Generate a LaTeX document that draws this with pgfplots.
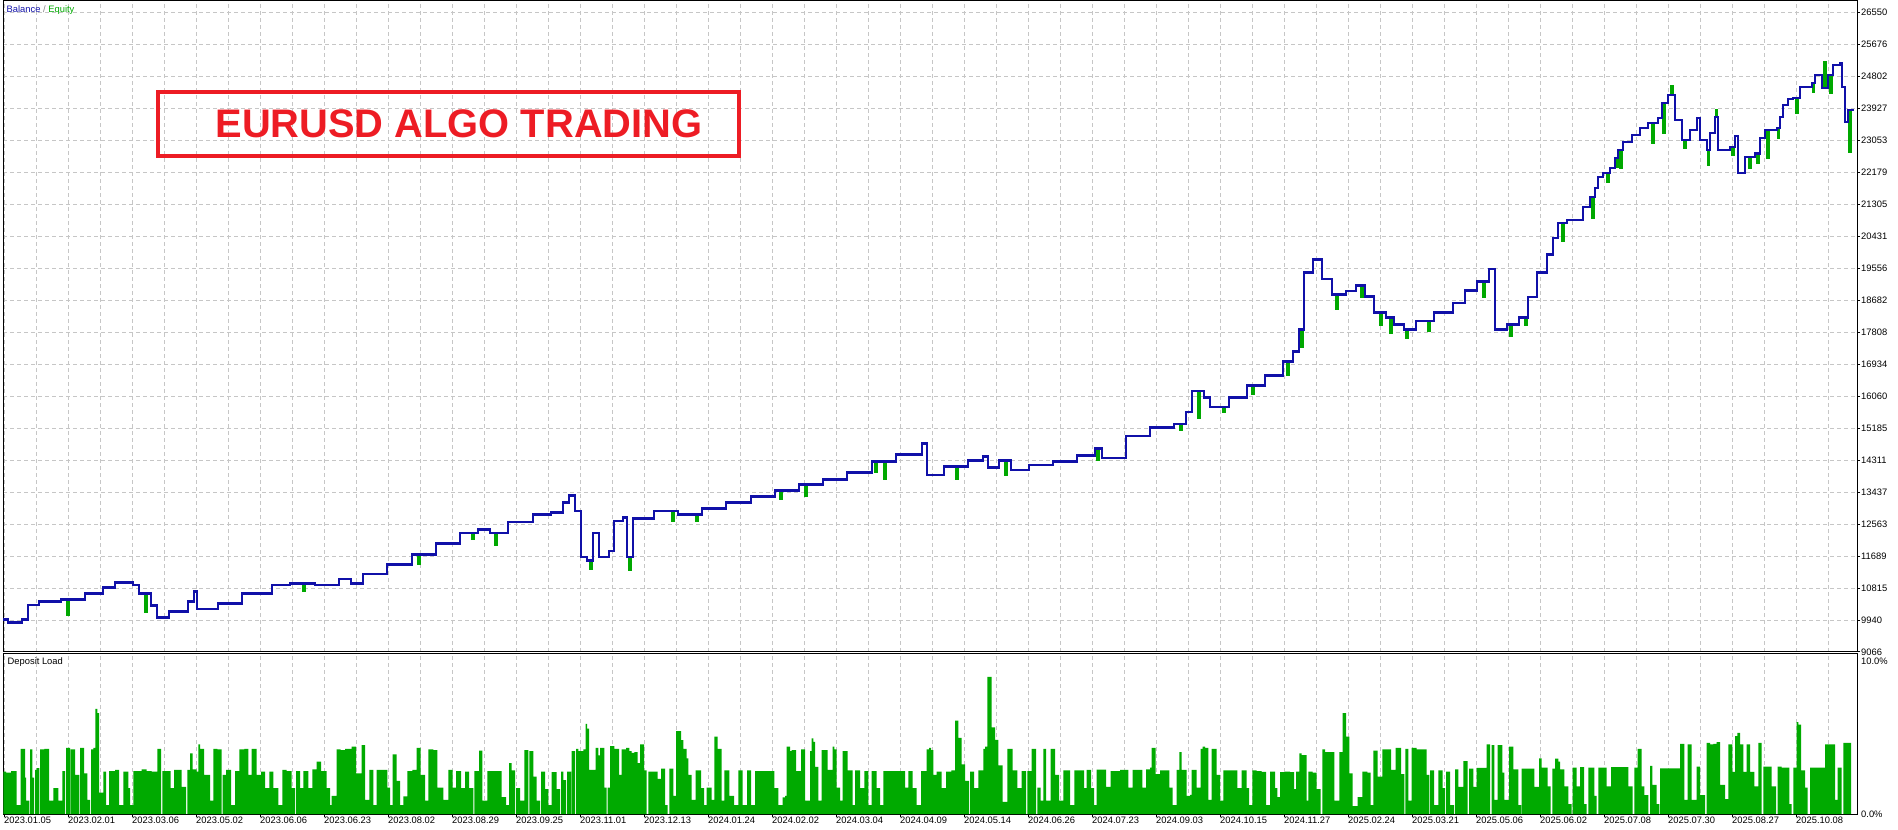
\documentclass[border=0pt]{standalone}
\usepackage{pgfplots}
\pgfplotsset{compat=1.18}
\usepackage{fontspec}
\setmainfont{Liberation Sans}

\definecolor{balblue}{RGB}{16,16,168}
\definecolor{eqgreen}{RGB}{0,168,0}
\definecolor{dlgreen}{RGB}{0,170,0}
\definecolor{gridgray}{RGB}{198,198,198}
\definecolor{titlered}{RGB}{237,28,36}

\newcommand{\lbl}{\fontsize{9.4}{10}\selectfont}

\pgfplotsset{
  mtpanel/.style={
    anchor=south west, scale only axis, width=1854bp,
    xmin=3, xmax=1857,
    axis line style={black, line width=1bp},
    xtick={4,68,...,1796}, minor xtick={36,100,...,1828},
    xmajorgrids, xminorgrids,
    grid style={gridgray, line width=1bp, dash pattern=on 4bp off 3bp},
    minor grid style={gridgray, line width=1bp, dash pattern=on 4bp off 3bp},
    tick align=outside, major tick length=3bp, minor tick length=0pt,
    ytick pos=right, yticklabel pos=right,
    scaled x ticks=false, scaled y ticks=false,
    /pgf/number format/assume math mode=true,
    tick label style={font=\lbl, black},
    yticklabel style={anchor=west, inner sep=0pt, xshift=1bp},
  }
}

\begin{document}
\begin{tikzpicture}
\path[use as bounding box] (0,0) rectangle (1898bp,830bp);

% Balance / Equity panel
\begin{axis}[mtpanel,
  at={(3bp,178bp)}, height=651bp,
  ymin=9066, ymax=26870,
  ymajorgrids,
  xticklabel=\empty, xtick style={draw=none},
  ytick style={black, line width=1bp},
  ytick={9066,9940,10815,11689,12563,13437,14311,15185,16060,16934,17808,18682,19556,20431,21305,22179,23053,23927,24802,25676,26550},
  yticklabels={9066,9940,10815,11689,12563,13437,14311,15185,16060,16934,17808,18682,19556,20431,21305,22179,23053,23927,24802,25676,26550},
]
% equity (with floating drawdowns)
\addplot[const plot, eqgreen, line width=2bp] coordinates {
(3,9950)(8,9880)(22,9960)(28,10350)(39,10440)(61,10500)(67,10070)(68.5,10500)(85,10670)(103,10830)(115,10970)(133,10900)(139,10670)(145,10170)(146.5,10670)(151,10340)(157,10000)(169,10170)(188,10440)(194,10730)(197,10240)(218,10400)(242,10670)(272,10900)(290,10930)(303,10730)(304.5,10930)(315,10900)(339,11065)(351,10930)(363,11200)(387,11460)(412,11730)(418,11460)(419.5,11730)(436,12025)(460,12320)(472,12160)(473.5,12320)(478,12420)(490,12320)(495,11990)(496.5,12320)(508,12620)(533,12820)(551,12890)(563,13150)(569,13350)(575,12920)(581,11660)(587,11560)(590,11330)(591.5,11560)(593,12320)(599,11660)(609,11830)(614,12650)(623,12750)(627,11660)(629,11300)(630.5,11660)(633,12720)(654,12920)(672,12650)(673.5,12920)(678,12820)(696,12650)(697.5,12820)(702,12985)(726,13150)(751,13320)(775,13480)(780,13250)(781.5,13480)(799,13650)(805,13320)(806.5,13650)(823,13780)(847,13980)(872,14280)(875,13980)(876.5,14280)(884,13810)(885.5,14280)(896,14475)(922,14770)(927,13910)(944,14140)(956,13810)(957.5,14140)(968,14310)(983,14410)(988,14110)(999,14310)(1005,13910)(1006.5,14310)(1011,14040)(1029,14180)(1053,14280)(1077,14440)(1095,14640)(1097,14310)(1098.5,14640)(1102,14375)(1126,14970)(1150,15200)(1174,15300)(1180,15140)(1181.5,15300)(1186,15630)(1192,16200)(1198,15470)(1199.5,16200)(1204,16030)(1210,15770)(1223,15630)(1224.5,15770)(1229,16030)(1247,16360)(1252,16130)(1253.5,16360)(1265,16630)(1283,17020)(1287,16630)(1288.5,17020)(1293,17290)(1299,17880)(1301,17400)(1302.5,17880)(1304,19440)(1313,19800)(1322,19270)(1332,18840)(1336,18450)(1337.5,18840)(1346,18940)(1356,19080)(1361,18780)(1362.5,19080)(1365,18780)(1374,18350)(1380,18010)(1381.5,18350)(1386,18215)(1390,17780)(1391.5,18215)(1394,18016)(1404,17884)(1406,17650)(1407.5,17884)(1416,18116)(1428,17850)(1429.5,18116)(1434,18347)(1453,18612)(1465,18943)(1477,19208)(1483,18780)(1484.5,19208)(1489,19539)(1495,17884)(1507,18016)(1510,17700)(1511.5,18016)(1519,18215)(1525,18000)(1526.5,18215)(1528,18778)(1537,19440)(1547,19936)(1553,20387)(1558,20797)(1562,20300)(1563.5,20797)(1567,20880)(1583,21234)(1590,21508)(1592,20930)(1593.5,21508)(1595,21754)(1598,22055)(1603,22164)(1607,21920)(1608.5,22164)(1610,22301)(1615,22575)(1616,22330)(1617.5,22575)(1618,22793)(1620,22300)(1621.5,22793)(1623,23012)(1632,23203)(1640,23395)(1648,23532)(1652,22980)(1653.5,23532)(1658,23668)(1662,24078)(1663,23260)(1664.5,24078)(1668,24297)(1671,24550)(1672.5,24297)(1675,23613)(1682,23066)(1684,22850)(1685.5,23066)(1690,23340)(1697,23668)(1700,23066)(1707,22793)(1708,22380)(1709.3,22793)(1710,23258)(1715,23695)(1716.2,23900)(1717.2,23695)(1718,22793)(1730,22875)(1732,22650)(1733.5,22875)(1735,23176)(1738,22164)(1745,22602)(1749,22300)(1750.5,22602)(1755,22700)(1757,22430)(1758.5,22700)(1760,23121)(1765,23340)(1767,22570)(1768.5,23340)(1777,23395)(1778,23120)(1779.3,23395)(1780,23695)(1783,24023)(1788,24187)(1793,24214)(1796,23800)(1797.5,24214)(1800,24515)(1812,24625)(1813,24380)(1814.3,24625)(1815,24843)(1822,24488)(1824,25200)(1825.5,24488)(1828,24843)(1830,24350)(1831.5,24843)(1833,25117)(1840,25172)(1842,24515)(1845,23558)(1848,23887)(1849,22740)(1850.5,23887)(1853,23914)
};
% balance
\addplot[const plot, balblue, line width=2.7bp] coordinates {
(3,9950)(8,9880)(22,9960)(28,10350)(39,10440)(61,10500)(85,10670)(103,10830)(115,10970)(133,10900)(139,10670)(151,10340)(157,10000)(169,10170)(188,10440)(194,10730)(197,10240)(218,10400)(242,10670)(272,10900)(290,10930)(315,10900)(339,11065)(351,10930)(363,11200)(387,11460)(412,11730)(436,12025)(460,12320)(478,12420)(490,12320)(508,12620)(533,12820)(551,12890)(563,13150)(569,13350)(575,12920)(581,11660)(587,11560)(593,12320)(599,11660)(609,11830)(614,12650)(623,12750)(627,11660)(633,12720)(654,12920)(678,12820)(702,12985)(726,13150)(751,13320)(775,13480)(799,13650)(823,13780)(847,13980)(872,14280)(896,14475)(922,14770)(927,13910)(944,14140)(968,14310)(983,14410)(988,14110)(999,14310)(1011,14040)(1029,14180)(1053,14280)(1077,14440)(1095,14640)(1102,14375)(1126,14970)(1150,15200)(1174,15300)(1186,15630)(1192,16200)(1204,16030)(1210,15770)(1229,16030)(1247,16360)(1265,16630)(1283,17020)(1293,17290)(1299,17880)(1304,19440)(1313,19800)(1322,19270)(1332,18840)(1346,18940)(1356,19080)(1365,18780)(1374,18350)(1386,18215)(1394,18016)(1404,17884)(1416,18116)(1434,18347)(1453,18612)(1465,18943)(1477,19208)(1489,19539)(1495,17884)(1507,18016)(1519,18215)(1528,18778)(1537,19440)(1547,19936)(1553,20387)(1558,20797)(1567,20880)(1583,21234)(1590,21508)(1595,21754)(1598,22055)(1603,22164)(1610,22301)(1615,22575)(1618,22793)(1623,23012)(1632,23203)(1640,23395)(1648,23532)(1658,23668)(1662,24078)(1668,24297)(1675,23613)(1682,23066)(1690,23340)(1697,23668)(1700,23066)(1707,22793)(1710,23258)(1715,23695)(1718,22793)(1730,22875)(1735,23176)(1738,22164)(1745,22602)(1755,22700)(1760,23121)(1765,23340)(1777,23395)(1780,23695)(1783,24023)(1788,24187)(1793,24214)(1800,24515)(1812,24625)(1815,24843)(1822,24488)(1828,24843)(1833,25117)(1840,25172)(1842,24515)(1845,23558)(1848,23887)(1853,23914)
};
\end{axis}

% Deposit load panel
\begin{axis}[mtpanel,
  at={(3bp,16bp)}, height=160bp,
  ymin=0, ymax=10.46,
  xtick pos=left, xtick style={black, line width=1bp},
  xticklabels={2023.01.05,2023.02.01,2023.03.06,2023.05.02,2023.06.06,2023.06.23,2023.08.02,2023.08.29,2023.09.25,2023.11.01,2023.12.13,2024.01.24,2024.02.02,2024.03.04,2024.04.09,2024.05.14,2024.06.26,2024.07.23,2024.09.03,2024.10.15,2024.11.27,2025.02.24,2025.03.21,2025.05.06,2025.06.02,2025.07.08,2025.07.30,2025.08.27,2025.10.08},
  xticklabel style={anchor=north west, inner sep=0pt},
  ytick={0,10}, yticklabels={0.0\%,10.0\%}, ytick style={draw=none},
]
\addplot[const plot, fill=dlgreen, draw=none] coordinates {
(3.3,2.77)(6,2.71)(11,2.81)(16.7,0.58)(20.7,4.26)(25,2.38)(26,0.87)(29.3,0)(30,4.22)(32.3,2.38)(34,0)(35,2.88)(36.7,3.0)(39.3,0)(40,4.22)(44.3,4.26)(49,0.87)(53.3,1.69)(58.3,0.87)(62.3,2.81)(65,0)(66,4.33)(70,0)(70.7,4.22)(75,2.55)(79.3,0)(80,4.33)(84,2.66)(87.3,0.93)(90,0)(91,4.22)(93.3,4.33)(95.3,6.88)(97.3,6.6)(99,1.39)(103.3,2.77)(106,0.58)(109,2.81)(115,2.88)(119,0.58)(123.3,2.77)(128.3,1.69)(130,0.58)(133.3,2.81)(141.7,2.92)(146.7,2.81)(151.7,2.77)(157.3,4.26)(161,0)(162.3,2.81)(170.7,1.69)(174,2.88)(181.7,1.78)(186,0)(187.3,2.88)(190,3.96)(192.7,2.92)(196.7,2.77)(198.3,4.55)(200,4.26)(204,2.55)(210,0.87)(213.3,4.26)(217.3,4.22)(221.7,0)(222.7,2.55)(226,2.88)(231,0.58)(235,2.81)(239.3,4.22)(244.3,4.26)(248.3,2.55)(251.7,4.26)(256.7,2.55)(261,2.77)(265,1.69)(269.3,2.77)(273.3,1.69)(278.3,0.58)(282.3,2.88)(286.7,2.81)(291.7,1.69)(295,0)(296,2.81)(300,1.69)(303.3,2.81)(308.3,1.69)(312.3,2.92)(316.7,3.42)(321,2.81)(326.7,1.69)(330,0.58)(331.7,1.19)(336.7,4.22)(340.7,4.18)(345,4.26)(351.7,4.4)(356,2.66)(361.7,4.5)(365,0.93)(369.3,2.88)(373.3,0.58)(376.7,2.88)(387.3,1.73)(390,0.58)(392.7,3.9)(396.7,2.16)(400,0.58)(403.3,1.15)(407.3,2.81)(412.3,2.88)(416.7,4.33)(420.7,2.55)(425,0.87)(428.3,4.22)(433.3,4.18)(437.3,1.73)(443.3,0.93)(448.3,2.88)(452.7,1.73)(456,2.81)(461,1.69)(465,2.77)
(469,1.69)(473.3,0)(474.3,2.81)(479,4.15)(482.3,0.87)(487.3,2.81)(501.7,1.1)(506,0.58)(509,3.32)(511.7,2.86)(515,0)(516,1.69)(520,0.87)(524.3,4.18)(528.3,0)(529.3,4.11)(533.3,2.45)(536.7,0.87)(540,0)(541,2.77)(545,1.62)(548.3,0.58)(551.7,2.73)(556.7,1.62)(560,0)(561,2.77)(563.3,2.21)(566,0)(567,2.77)(571,0)(571.7,4.11)(575,0)(576,4.26)(578.3,4.11)(583.3,4.22)(585.7,5.89)(587,5.58)(589,2.88)(595.7,4.33)(598.3,3.83)(600,4.33)(604.3,1.73)(606.7,0)(607.7,1.73)(610,4.44)(614.3,4.26)(619,2.55)(621.7,4.22)(626,4.33)(629.3,4.11)(631.7,4.0)(634.3,4.05)(637.7,3.32)(640,4.55)(644,2.86)(646.7,0)(648.3,2.77)(657.7,2.3)(661,2.97)(665,0.58)(667.7,0)(669.3,2.97)(673.3,1.19)(676,5.41)(681,4.83)(683.3,4.26)(686.7,3.64)(688.3,2.55)(691.7,0.93)(695.7,2.86)(701,1.69)(704,0.58)(706.7,1.73)(711.7,0.93)(714.3,5.06)(717.7,4.26)(721.7,0.87)(724.3,2.86)(729.3,1.19)(734,0.58)(738.3,2.86)(742.7,0.58)(747,2.86)(751,0.58)(755,2.81)(774.3,1.69)(778.3,0.58)(782.7,1.08)(785,1.19)(786.7,4.4)(790,4.11)(791.7,4.18)(796,2.81)(801,4.22)(805,0.87)(810,4.11)(811.7,4.94)(813.3,4.72)(815,3.08)(818.3,0.87)(821.7,4.18)(827.7,2.88)(832.7,4.4)(834.3,4.22)(836.7,1.73)(840,0.87)(842.7,4.11)(847.7,2.86)(852.7,0.58)(855,2.86)(860,1.69)(864.3,2.81)(868.3,0.58)(871.7,2.81)(876.7,1.69)(880,0.58)(883.3,2.81)(905,1.73)(908.3,2.81)(912.7,1.69)(916.7,0.58)(921,2.81)(926.7,4.22)(929,4.33)(931,4.18)
(933.3,2.55)(936.7,2.77)(941.7,1.69)(946,2.77)(951.3,2.86)(955,6.11)(958.3,4.98)(961.7,3.25)(965,2.16)(969,0)(970,2.77)(974,1.69)(978.3,2.86)(983.3,4.26)(985,4.4)(987.3,8.96)(991.7,5.67)(995,4.85)(998.3,3.18)(1002.7,0.8)(1007.3,4.26)(1012.7,2.86)(1017.3,1.69)(1021.7,2.81)(1026,0)(1027.3,2.81)(1031.7,4.26)(1036,0)(1037.3,1.73)(1040.7,0.87)(1043.3,4.26)(1046,0.87)(1050.7,4.26)(1055,2.55)(1059,0.87)(1063.3,2.86)(1070,0.58)(1074.3,2.86)(1084,1.69)(1086.7,2.88)(1091,1.69)(1094,0.58)(1096.7,2.9)(1106,1.78)(1110.7,2.81)(1120,2.88)(1128.3,1.73)(1132.7,2.88)(1142.3,1.73)(1146,2.92)(1150,3.03)(1151.7,4.33)(1155.7,2.6)(1160,2.86)(1169.3,1.73)(1172.7,0.58)(1176.7,2.88)(1179.3,4.05)(1181.7,2.88)(1186.7,1.19)(1190,1.25)(1191.7,2.88)(1196.7,1.73)(1200.7,4.26)(1202.7,4.4)(1205,4.33)(1208.3,0.93)(1211.7,4.26)(1216.7,2.55)(1220,0.87)(1223.3,2.86)(1237.3,1.69)(1241.7,2.86)(1246.7,1.69)(1249,0.58)(1252.3,2.86)(1256.7,2.81)(1261.7,2.75)(1266,0.58)(1270,2.77)(1275,1.69)(1277.3,1.1)(1280,2.73)(1285,2.77)(1290,2.73)(1294,1.62)(1296,2.77)(1299.3,3.96)(1301.7,3.85)(1306.7,0.87)(1308.3,2.77)(1312.7,2.71)(1316.7,1.62)(1320.7,0)(1322.3,4.22)(1325,4.05)(1334.3,0.87)(1339.3,4.05)(1342.7,6.6)(1346,5.06)(1349.3,2.66)(1352.7,0.52)(1357.7,1.1)(1362.3,2.77)(1367.3,2.71)(1370.7,0.58)(1373.3,4.15)(1377.7,2.45)(1382.3,4.22)(1391,2.88)(1395.7,4.33)
(1401,2.6)(1404.3,0)(1405.3,4.26)(1408.3,0.87)(1411.7,4.33)(1416.7,4.22)(1426.7,2.55)(1429.3,0)(1430,2.86)(1434,0.58)(1438.3,2.86)(1442.7,1.69)(1445,0)(1446,2.77)(1450,0.58)(1454,0)(1455,2.92)(1458.3,1.78)(1463.3,3.46)(1467.7,0)(1469,2.97)(1473.3,1.78)(1476.7,3.01)(1486.7,4.55)(1490,0)(1491.7,4.5)(1494.3,0.93)(1497.7,4.5)(1502.3,2.71)(1504.3,0.93)(1509,4.4)(1513.3,2.92)(1518.3,0.58)(1521,0)(1521.7,2.97)(1534.3,1.78)(1539,3.64)(1541.7,3.03)(1547.7,1.8)(1550.7,0)(1552.3,2.97)(1555,3.62)(1558.3,3.42)(1560,2.92)(1564.3,1.8)(1568.3,0.65)(1571.7,0)(1572.7,3.03)(1576.7,1.8)(1580,3.07)(1584,0.65)(1586.7,0)(1588.3,3.03)(1594.3,1.19)(1596.7,0)(1598.3,3.03)(1606.7,1.8)(1611,3.07)(1628.3,1.8)(1632.7,0)(1634.3,3.03)(1637.7,4.26)(1641.7,1.8)(1644.3,1.23)(1648.3,0)(1650,3.14)(1652.3,1.9)(1656.7,0.65)(1659.3,0)(1660,2.99)(1680,4.59)(1684.3,0.93)(1687.7,4.55)(1691.7,0.93)(1696.7,3.1)(1700,1.23)(1705,0)(1706.7,4.65)(1710,4.55)(1713.3,4.59)(1716.7,4.7)(1720,1.9)(1725,0.97)(1728.3,4.55)(1732.3,2.75)(1735,5.09)(1737.3,5.3)(1740,4.55)(1743.3,2.75)(1746.7,4.55)(1750,2.75)(1754.3,1.8)(1758.3,4.65)(1761.7,0)(1763.3,3.1)(1771.7,1.8)(1776,0)(1777.7,3.1)(1781.7,3.03)(1789.3,0.65)(1791.7,0)(1793.3,3.03)(1796.7,6.0)(1798.3,5.84)(1801,2.86)(1805,1.73)(1807.7,0)(1810,3.03)(1825,4.55)(1835,0.93)(1837.7,3.03)(1841.7,0)(1843.3,4.65)(1851,0)
} \closedcycle;
\end{axis}

% panel captions and banner
\node[anchor=west, inner sep=0pt, font=\lbl] at (6.5bp,819.5bp)
  {\textcolor{balblue}{Balance} \textcolor{gray}{/} \textcolor{eqgreen}{Equity}};
\node[anchor=west, inner sep=0pt, font=\lbl] at (7.5bp,168bp) {Deposit Load};
\node[draw=titlered, line width=4bp, minimum width=581bp, minimum height=64bp,
      inner sep=0pt] at (448.5bp,706bp) {};
\node[inner sep=0pt, text=titlered, font=\fontsize{40}{40}\selectfont\bfseries]
  at (459bp,706bp) {EURUSD ALGO TRADING};
\end{tikzpicture}
\end{document}
